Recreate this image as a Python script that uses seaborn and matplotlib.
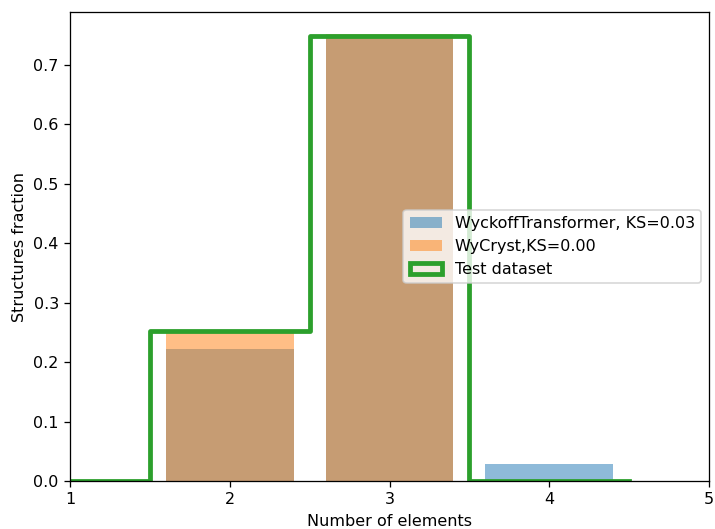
import matplotlib
matplotlib.use("Agg")
import matplotlib.pyplot as plt
import matplotlib.patches as mpatches
import seaborn as sns
import numpy as np

n_elements = [1, 2, 3, 4]
wyckoff_frac = [0.0, 0.222, 0.749, 0.029]
wycryst_frac = [0.0, 0.249, 0.751, 0.0]
test_frac = [0.0, 0.252, 0.748, 0.0]
bin_edges = [0.5, 1.5, 2.5, 3.5, 4.5]

labels = ["WyckoffTransformer, KS=0.03", "WyCryst,KS=0.00", "Test dataset"]

DPI = 115
fig, ax = plt.subplots(figsize=(715 / DPI, 529 / DPI), dpi=DPI)
fig.subplots_adjust(left=70 / 715, right=709 / 715, top=1 - 12 / 529, bottom=1 - 481 / 529)

sns.histplot(x=n_elements, weights=wyckoff_frac, discrete=True, shrink=0.8,
             color="tab:blue", alpha=0.5, linewidth=0, ax=ax)
sns.histplot(x=n_elements, weights=wycryst_frac, discrete=True, shrink=0.8,
             color="tab:orange", alpha=0.5, linewidth=0, ax=ax)
sns.histplot(x=n_elements, weights=test_frac, bins=bin_edges, element="step",
             fill=False, color="tab:green", linewidth=3, ax=ax)

ax.set_xlim(1, 5)
ax.set_xticks([1, 2, 3, 4, 5])
ax.set_xlabel("Number of elements")
ax.set_ylabel("Structures fraction")

handles = [
    mpatches.Patch(facecolor="tab:blue", alpha=0.5, linewidth=0),
    mpatches.Patch(facecolor="tab:orange", alpha=0.5, linewidth=0),
    mpatches.Patch(facecolor="none", edgecolor="tab:green", linewidth=3),
]
ax.legend(handles, labels, loc="center right")

fig.savefig("out.png", dpi=DPI)
